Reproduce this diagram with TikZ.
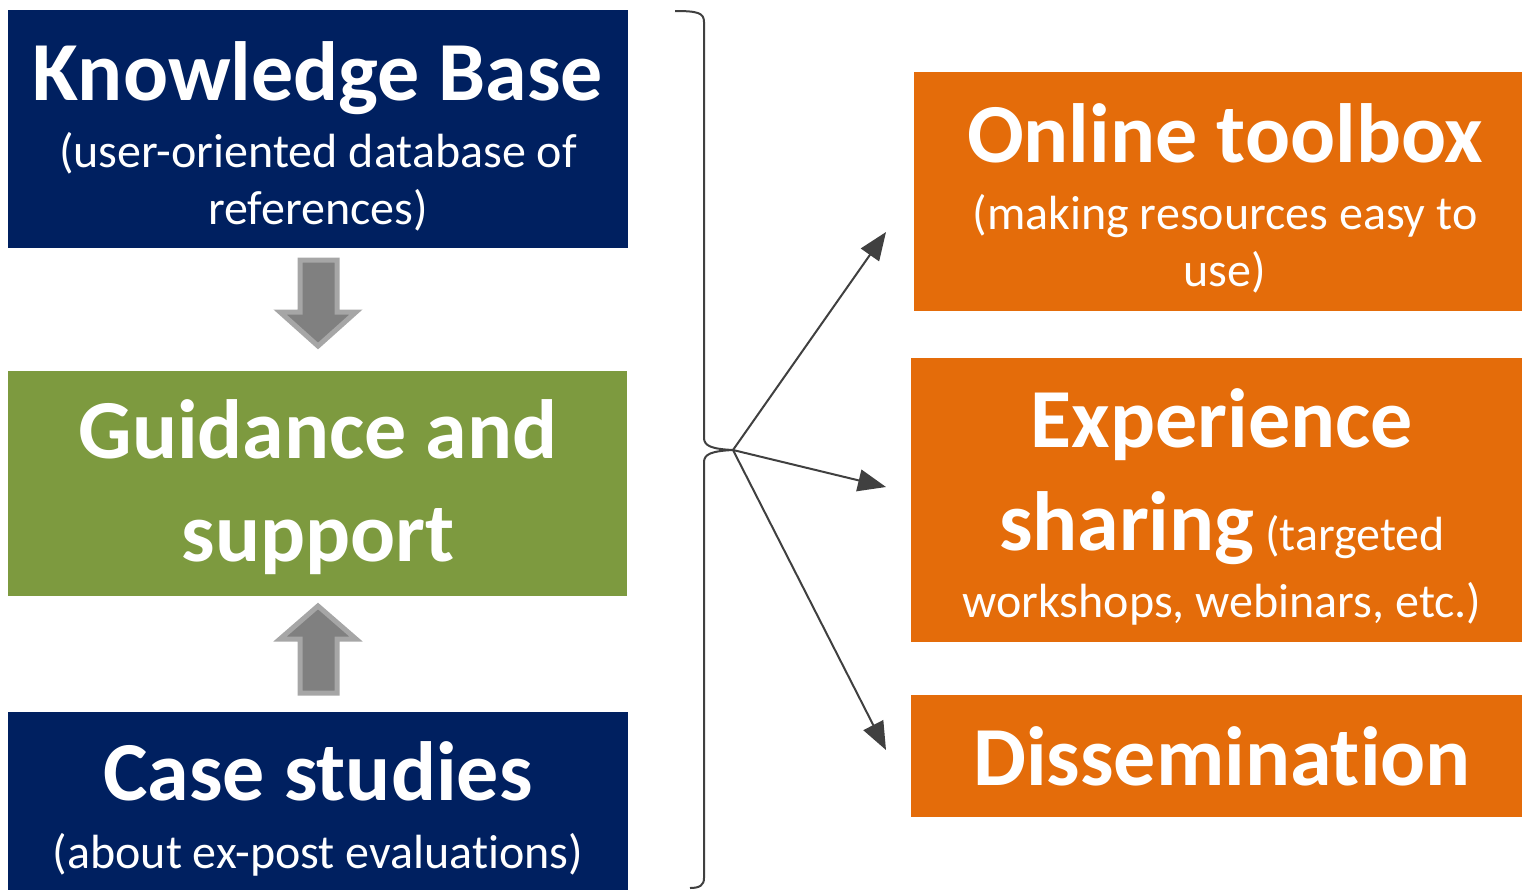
\documentclass[tikz,border=0pt]{standalone}
\usepackage{fontspec}
\setmainfont{Carlito}[Ligatures={NoCommon}]
\usetikzlibrary{arrows.meta}
\definecolor{navy}{HTML}{002060}
\definecolor{olive}{HTML}{7D9A3F}
\definecolor{orng}{HTML}{E46C0A}
\definecolor{arrfill}{HTML}{808080}
\definecolor{arredge}{HTML}{A6A6A6}
\definecolor{lineg}{HTML}{404040}
\tikzset{
  box/.style={inner sep=0pt, outer sep=0pt},
  ttl/.style={anchor=base, inner sep=0pt, text=white, font=\fontsize{42}{50}\selectfont\bfseries},
  sub/.style={anchor=base, inner sep=0pt, text=white, font=\fontsize{24}{28}\selectfont},
  blockarrow/.style={fill=arrfill, draw=arredge, line width=2.5pt, line join=miter},
  conn/.style={draw=lineg, line width=1pt, -{Triangle[length=14pt,width=11pt]}},
  brace/.style={draw=lineg, line width=1pt}
}
\begin{document}
\begin{tikzpicture}[x=0.5pt,y=-0.5pt]
\useasboundingbox (0,0) rectangle (1522,890);
% boxes
\fill[navy] (8,10) rectangle (628,248);
\node[box] (kb) at (318,129) {};
\fill[olive] (8,371) rectangle (627,596);
\node[box] (gs) at (318,483) {};
\fill[navy] (8,712) rectangle (628,890);
\node[box] (cs) at (318,801) {};
\fill[orng] (914,72) rectangle (1522,311);
\node[box] (ot) at (1218,191) {};
\fill[orng] (911,358) rectangle (1522,642);
\node[box] (es) at (1216,500) {};
\fill[orng] (911,695) rectangle (1522,817);
\node[box] (di) at (1216,756) {};
% texts
\node[ttl] (kbt) at (318,100) {Knowledge Base};
\node[sub] (kbs1) at (318,167) {(user-oriented database of};
\node[sub] (kbs2) at (318,224) {references)};
\node[ttl] (gst1) at (318,458) {Guidance and};
\node[ttl] (gst2) at (318,561) {support};
\node[ttl] (cst) at (318,800) {Case studies};
\node[sub] (css) at (318,868) {(about ex-post evaluations)};
\node[ttl] (ott) at (1225,162) {Online toolbox};
\node[sub] (ots1) at (1225,229) {(making resources easy to};
\node[sub] (ots2) at (1225,286) {use)};
\node[ttl] (est1) at (1222,447) {Experience};
\node[anchor=base, inner sep=0pt, text=white] (est2) at (1222,550) {{\fontsize{42}{50}\selectfont\bfseries sharing}{\fontsize{24}{28}\selectfont\ (targeted}};
\node[sub] (ess) at (1222,617) {workshops, webinars, etc.)};
\node[ttl] (dit) at (1222,785) {Dissemination};
% block arrows
\draw[blockarrow] (300,260) -- (337,260) -- (337,312) -- (356,312) -- (318,346) -- (280,312) -- (300,312) -- cycle;
\draw[blockarrow] (300,693) -- (337,693) -- (337,639) -- (356,639) -- (318,606) -- (280,639) -- (300,639) -- cycle;
% brace
\coordinate (tip) at (733,450);
\draw[brace] (675,11) .. controls (698,11) and (704,13) .. (704,22) -- (704,438)
  .. controls (704,446) and (712,449) .. (tip)
  .. controls (712,451) and (704,454) .. (704,462) -- (704,878)
  .. controls (704,885) and (700,888) .. (690,888);
\coordinate (e1) at (886,232);
\coordinate (e2) at (886,487);
\coordinate (e3) at (886,750);
\draw[conn] (tip) -- (e1);
\draw[conn] (tip) -- (e2);
\draw[conn] (tip) -- (e3);
\end{tikzpicture}
\end{document}
